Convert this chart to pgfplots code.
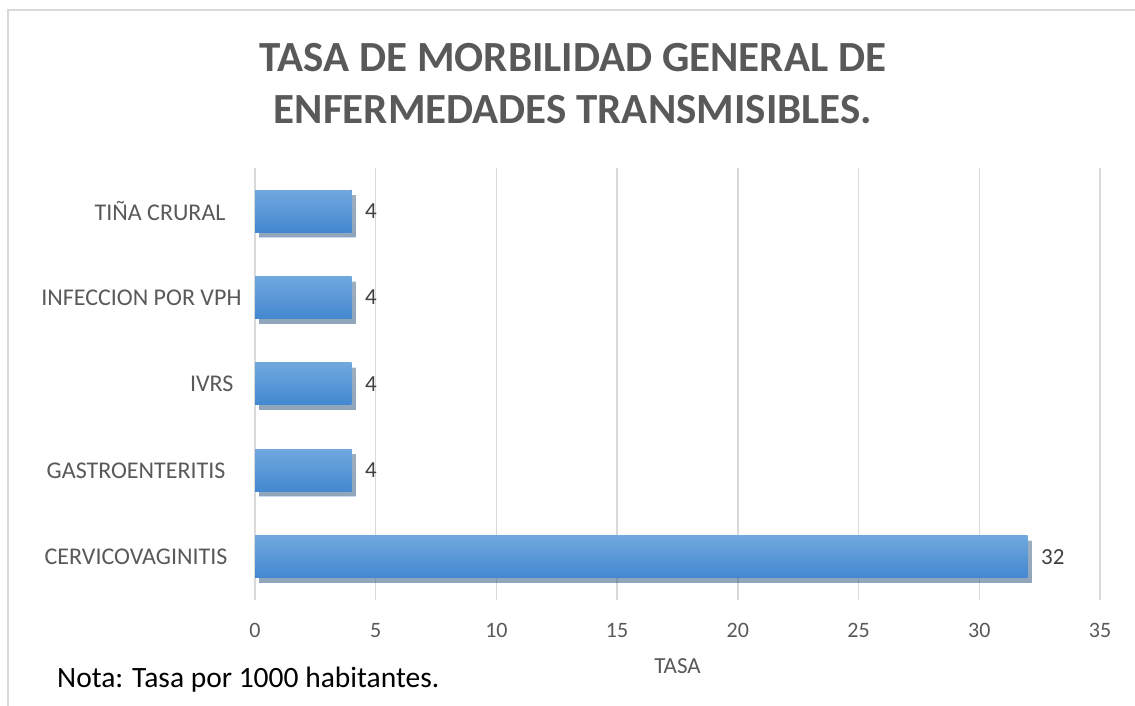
\documentclass[border=0pt]{standalone}
\usepackage{pgfplots}
\pgfplotsset{compat=1.18}
\usepackage{fontspec}
\setmainfont{Carlito}
\usetikzlibrary{shadows}
\definecolor{titlegray}{HTML}{595959}
\definecolor{labgray}{HTML}{595959}
\definecolor{gridgray}{HTML}{D9D9D9}
\definecolor{bartop}{HTML}{70A8DE}
\definecolor{barbot}{HTML}{4388D0}
\begin{document}
\begin{tikzpicture}[x=1pt,y=1pt]
\path[use as bounding box] (0,0) rectangle (1135,706);
\draw[gridgray, line width=2pt] (8,0) -- (8,696) -- (1135,696);
\node[font=\fontsize{43}{43}\selectfont\bfseries, text=titlegray] at (573,648) {TASA DE MORBILIDAD GENERAL DE};
\node[font=\fontsize{43}{43}\selectfont\bfseries, text=titlegray] at (573,596) {ENFERMEDADES TRANSMISIBLES.};
\node[anchor=base west, font=\fontsize{29.5}{29.5}\selectfont, text=black, inner sep=0pt] at (57,18) {Nota: Tasa por 1000 habitantes.};
\begin{axis}[
  at={(255pt,106pt)}, anchor=south west,
  scale only axis, width=845pt, height=432pt,
  xbar, bar shift=0pt, bar width=42pt,
  xmin=0, xmax=35, ymin=-0.5, ymax=4.5,
  xtick={0,5,...,35}, ytick={0,1,2,3,4},
  yticklabels={CERVICOVAGINITIS\kern-2pt, GASTROENTERITIS, IVRS\kern-8pt, INFECCION POR VPH\kern-16pt, TIÑA CRURAL},
  xmajorgrids, ymajorgrids=false,
  grid style={draw=gridgray, line width=1.5pt},
  axis line style={draw=none},
  major tick length=0pt,
  /pgf/number format/assume math mode=true,
  xticklabel style={font=\fontsize{22}{22}\selectfont, text=labgray, yshift=-20pt},
  yticklabel style={font=\fontsize{24}{24}\selectfont, text=labgray, xshift=-26pt},
  xlabel={TASA},
  xlabel style={font=\fontsize{23}{23}\selectfont, text=labgray, yshift=-14pt},
  nodes near coords,
  nodes near coords style={font=\fontsize{23}{23}\selectfont, text=black!75, anchor=west, xshift=10pt},
  every axis plot/.append style={draw=none, top color=bartop, bottom color=barbot,
     drop shadow={shadow xshift=4pt, shadow yshift=-5pt, fill=black, opacity=0.3}},
  clip=false,
]
\addplot coordinates {(32,0)};
\addplot coordinates {(4,1)};
\addplot coordinates {(4,2)};
\addplot coordinates {(4,3)};
\addplot coordinates {(4,4)};
\end{axis}
\end{tikzpicture}
\end{document}
